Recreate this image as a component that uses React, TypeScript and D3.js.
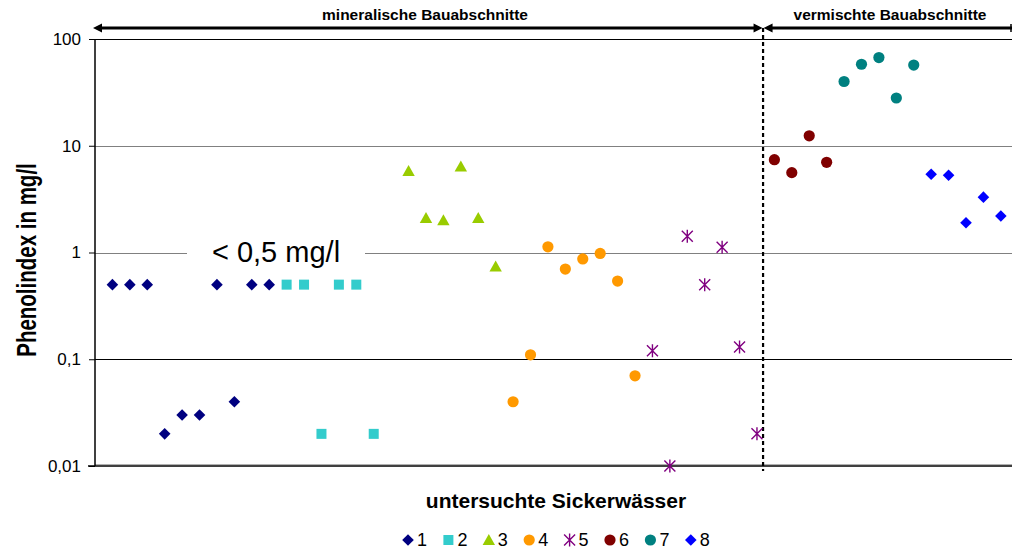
import React, { useEffect, useRef } from "react";
import * as d3 from "d3";

// Phenolindex je Sickerwasser (mg/l), x = laufende Nummer
const series1 = [0.5, 0.5, 0.5, 0.02, 0.03, 0.03, 0.5, 0.04, 0.5, 0.5];
const series2 = [0.5, 0.5, 0.02, 0.5, 0.5, 0.02];
const series3 = [5.8, 2.1, 2.0, 6.4, 2.1, 0.74];
const series4 = [0.04, 0.11, 1.13, 0.7, 0.87, 0.98, 0.54, 0.07];
const series5 = [0.12, 0.01, 1.42, 0.5, 1.12, 0.13, 0.02];
const series6 = [7.4, 5.6, 12.4, 7.0];
const series7 = [40, 58, 67, 28, 57];
const series8 = [5.4, 5.3, 1.9, 3.3, 2.2];

const seriesNames = ["1", "2", "3", "4", "5", "6", "7", "8"];
const seriesStart = [1, 11, 18, 24, 32, 39, 43, 48];
const yTicks = [0.01, 0.1, 1, 10, 100];
const yTickLabels = ["0,01", "0,1", "1", "10", "100"];
const dividerX = 38.35;

const colors = ["#000080", "#33CCCC", "#99CC00", "#FF9900", "#800080", "#800000", "#008080", "#0000FF"];
const shapes = ["diamond", "square", "triangle", "circle", "star", "circle", "circle", "diamond"];

const W = 1012;
const H = 551;
const font = "Arial, 'Liberation Sans', sans-serif";

function drawMarker(g: any, shape: string, color: string) {
  if (shape === "diamond") {
    g.append("path").attr("d", "M0,-5.8L5.8,0L0,5.8L-5.8,0Z").attr("fill", color);
  } else if (shape === "square") {
    g.append("rect").attr("x", -5).attr("y", -5).attr("width", 10).attr("height", 10).attr("fill", color);
  } else if (shape === "triangle") {
    g.append("path").attr("d", "M0,-6L6.2,5L-6.2,5Z").attr("fill", color);
  } else if (shape === "circle") {
    g.append("circle").attr("r", 5.6).attr("fill", color);
  } else {
    g.append("path")
      .attr("d", "M0,-6.5L0,6.5M-5.5,-5.5L5.5,5.5M-5.5,5.5L5.5,-5.5")
      .attr("stroke", color)
      .attr("stroke-width", 1.4)
      .attr("fill", "none");
  }
}

export default function App() {
  const ref = useRef<SVGSVGElement>(null);

  useEffect(() => {
    const svg = d3.select(ref.current);
    svg.selectAll("*").remove();

    const left = 95, top = 39, bottom = 466;
    const x = d3.scaleLinear().domain([0, 52.6]).range([left, 1011.3]);
    const y = d3.scaleLog().domain([0.01, 100]).range([bottom, top]);

    const allSeries = [series1, series2, series3, series4, series5, series6, series7, series8];

    // gridlines
    svg.append("g")
      .selectAll("line")
      .data(yTicks.slice(1))
      .join("line")
      .attr("x1", left)
      .attr("x2", W)
      .attr("y1", d => Math.round(y(d)) + 0.5)
      .attr("y2", d => Math.round(y(d)) + 0.5)
      .attr("stroke", d => (d === 1 || d === 10 ? "#808080" : "#000"))
      .attr("stroke-width", 1);

    svg.append("line")
      .attr("x1", left).attr("x2", W)
      .attr("y1", bottom - 1.5).attr("y2", bottom - 1.5)
      .attr("stroke", "#b0b0b0");

    // y axis
    const yAxis = svg.append("g").attr("transform", `translate(${left},0)`)
      .call(d3.axisLeft(y).tickValues(yTicks).tickSize(6).tickPadding(8)
        .tickFormat((d, i) => yTickLabels[i]));
    yAxis.select(".domain").attr("stroke", "#000").attr("stroke-width", 1.5).attr("d", `M0,${top}V${bottom}`);
    yAxis.selectAll(".tick line").attr("stroke", "#000");
    yAxis.selectAll(".tick text").attr("font-family", font).attr("font-size", 17).attr("fill", "#000");

    // x axis line
    svg.append("line")
      .attr("x1", 88).attr("x2", W)
      .attr("y1", bottom).attr("y2", bottom)
      .attr("stroke", "#000").attr("stroke-width", 1.5);

    // "< 0,5 mg/l" label with white box covering gridline
    svg.append("rect").attr("x", 187).attr("y", 236).attr("width", 178).attr("height", 32).attr("fill", "#fff");
    svg.append("text")
      .attr("x", 276).attr("y", 262)
      .attr("text-anchor", "middle")
      .attr("font-family", font).attr("font-size", 29)
      .text("< 0,5 mg/l");

    // divider
    svg.append("line")
      .attr("x1", x(dividerX)).attr("x2", x(dividerX))
      .attr("y1", 28).attr("y2", 471)
      .attr("stroke", "#000").attr("stroke-width", 2.2)
      .attr("stroke-dasharray", "4,3");

    // top arrows
    const ay = 28;
    const arrow = (x1: number, x2: number) => {
      svg.append("line").attr("x1", x1 + 4).attr("x2", x2 - 4).attr("y1", ay).attr("y2", ay)
        .attr("stroke", "#000").attr("stroke-width", 3);
      svg.append("path").attr("d", `M${x1},${ay}L${x1 + 9},${ay - 4.5}L${x1 + 9},${ay + 4.5}Z`).attr("fill", "#000");
      svg.append("path").attr("d", `M${x2},${ay}L${x2 - 9},${ay - 4.5}L${x2 - 9},${ay + 4.5}Z`).attr("fill", "#000");
    };
    const dx = x(dividerX);
    arrow(93, dx - 0.5);
    arrow(dx + 0.5, 1021);
    svg.append("line").attr("x1", 1011).attr("x2", 1011).attr("y1", ay - 4).attr("y2", ay + 4)
      .attr("stroke", "#000").attr("stroke-width", 1.5);

    svg.append("text").attr("x", 425).attr("y", 20).attr("text-anchor", "middle")
      .attr("font-family", font).attr("font-weight", "bold").attr("font-size", 15.5)
      .text("mineralische Bauabschnitte");
    svg.append("text").attr("x", 890).attr("y", 20).attr("text-anchor", "middle")
      .attr("font-family", font).attr("font-weight", "bold").attr("font-size", 15.5)
      .text("vermischte Bauabschnitte");

    // points
    allSeries.forEach((vals, si) => {
      vals.forEach((v, i) => {
        const g = svg.append("g").attr("transform", `translate(${x(seriesStart[si] + i)},${y(v)})`);
        drawMarker(g, shapes[si], colors[si]);
      });
    });

    // axis titles (Excel renders the rotated title taller than wide)
    svg.append("text")
      .attr("transform", `translate(36,260) rotate(-90) scale(1,1.35)`)
      .attr("text-anchor", "middle")
      .attr("font-family", font).attr("font-weight", "bold").attr("font-size", 20.5)
      .text("Phenolindex in mg/l");

    svg.append("text")
      .attr("x", 556).attr("y", 508)
      .attr("text-anchor", "middle")
      .attr("font-family", font).attr("font-weight", "bold").attr("font-size", 21)
      .text("untersuchte Sickerwässer");

    // legend
    const legend = svg.append("g");
    seriesNames.forEach((name, i) => {
      const lx = 408 + i * 40.4;
      const g = legend.append("g").attr("transform", `translate(${lx},540)`);
      drawMarker(g, shapes[i], colors[i]);
      legend.append("text")
        .attr("x", lx + 9).attr("y", 546)
        .attr("font-family", font).attr("font-size", 18)
        .text(name);
    });
  }, []);

  return (
    <svg ref={ref} width={W} height={H}
      style={{ position: "absolute", left: 0, top: 0, background: "#fff" }} />
  );
}
